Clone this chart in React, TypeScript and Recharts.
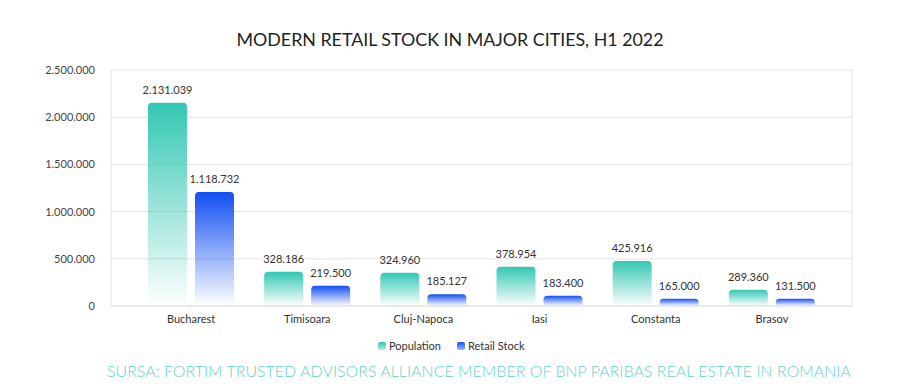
import React from "react";
import { BarChart, Bar, XAxis, YAxis, CartesianGrid, LabelList } from "recharts";

const cities = ["Bucharest", "Timisoara", "Cluj-Napoca", "Iasi", "Constanta", "Brasov"];
const populationBars = [2154000, 363000, 353000, 416000, 477000, 173000];
const retailBars = [1207000, 215000, 124000, 109000, 77000, 77000];
const populationLabels = ["2.131.039", "328.186", "324.960", "378.954", "425.916", "289.360"];
const retailLabels = ["1.118.732", "219.500", "185.127", "183.400", "165.000", "131.500"];
const yTicks = [0, 500000, 1000000, 1500000, 2000000, 2500000];
const seriesNames = ["Population", "Retail Stock"];

const data = cities.map((c, i) => ({
  city: c,
  population: populationBars[i],
  retail: retailBars[i],
  popLabel: populationLabels[i],
  retailLabel: retailLabels[i],
}));

const TEAL = "#33c7b3";
const BLUE = "#124ff2";
const FONT = "Lato, 'Open Sans', sans-serif";

const fmt = (v: number) => (v === 0 ? "0" : v.toLocaleString("de-DE"));

export default function App() {
  return (
    <div style={{ position: "absolute", left: 0, top: 0, width: 917, height: 389, background: "#fff", fontFamily: FONT }}>
      <BarChart
        width={917}
        height={389}
        data={data}
        margin={{ top: 70, right: 65, left: 0, bottom: 53 }}
        barSize={39}
        barGap={8}
      >
        <defs>
          <linearGradient id="gTeal" x1="0" y1="0" x2="0" y2="1">
            <stop offset="0%" stopColor={TEAL} stopOpacity={1} />
            <stop offset="100%" stopColor={TEAL} stopOpacity={0} />
          </linearGradient>
          <linearGradient id="gBlue" x1="0" y1="0" x2="0" y2="1">
            <stop offset="0%" stopColor={BLUE} stopOpacity={1} />
            <stop offset="100%" stopColor={BLUE} stopOpacity={0} />
          </linearGradient>
        </defs>
        <CartesianGrid
          stroke="#e3e3e3"
          verticalCoordinatesGenerator={({ offset }: any) => [offset.left, offset.left + offset.width]}
        />
        <XAxis
          dataKey="city"
          padding={{ left: 22, right: 22 }}
          axisLine={{ stroke: "#e3e3e3" }}
          tickLine={false}
          tickSize={0}
          height={30}
          tickMargin={9}
          tick={{ fontSize: 11, fill: "#333", fontFamily: FONT }}
        />
        <YAxis
          width={111}
          domain={[0, 2500000]}
          ticks={yTicks}
          tickFormatter={fmt}
          axisLine={false}
          tickLine={false}
          tickSize={0}
          tickMargin={16}
          tick={{ fontSize: 11, fill: "#444", fontFamily: FONT }}
        />
        <Bar dataKey="population" name={seriesNames[0]} fill="url(#gTeal)" radius={[4, 4, 0, 0]} isAnimationActive={false}>
          <LabelList dataKey="popLabel" position="top" offset={9} style={{ fontSize: 11, fill: "#333", fontFamily: FONT }} />
        </Bar>
        <Bar dataKey="retail" name={seriesNames[1]} fill="url(#gBlue)" radius={[4, 4, 0, 0]} isAnimationActive={false}>
          <LabelList dataKey="retailLabel" position="top" offset={9} style={{ fontSize: 11, fill: "#333", fontFamily: FONT }} />
        </Bar>
      </BarChart>
      <svg width={917} height={389} style={{ position: "absolute", left: 0, top: 0, pointerEvents: "none" }}>
        <defs>
          <linearGradient id="lgTeal" x1="0" y1="0" x2="0" y2="1">
            <stop offset="0%" stopColor={TEAL} />
            <stop offset="100%" stopColor={TEAL} stopOpacity={0.4} />
          </linearGradient>
          <linearGradient id="lgBlue" x1="0" y1="0" x2="0" y2="1">
            <stop offset="0%" stopColor={BLUE} />
            <stop offset="100%" stopColor={BLUE} stopOpacity={0.4} />
          </linearGradient>
        </defs>
        <text x={450} y={46} textAnchor="middle" fontSize={17} fill="#222" fontFamily={FONT} textLength={427} lengthAdjust="spacingAndGlyphs">
          MODERN RETAIL STOCK IN MAJOR CITIES, H1 2022
        </text>
        <rect x={378} y={342} width={8} height={8} rx={2} fill="url(#lgTeal)" />
        <text x={389} y={350} fontSize={11} fill="#333" fontFamily={FONT}>{seriesNames[0]}</text>
        <rect x={457} y={342} width={8} height={8} rx={2} fill="url(#lgBlue)" />
        <text x={468} y={350} fontSize={11} fill="#333" fontFamily={FONT}>{seriesNames[1]}</text>
        <text x={107} y={377} fontSize={16} fill="#5fd3c4" fontFamily={FONT} textLength={744} lengthAdjust="spacingAndGlyphs" fontWeight={300}>
          SURSA: FORTIM TRUSTED ADVISORS ALLIANCE MEMBER OF BNP PARIBAS REAL ESTATE IN ROMANIA
        </text>
      </svg>
    </div>
  );
}
